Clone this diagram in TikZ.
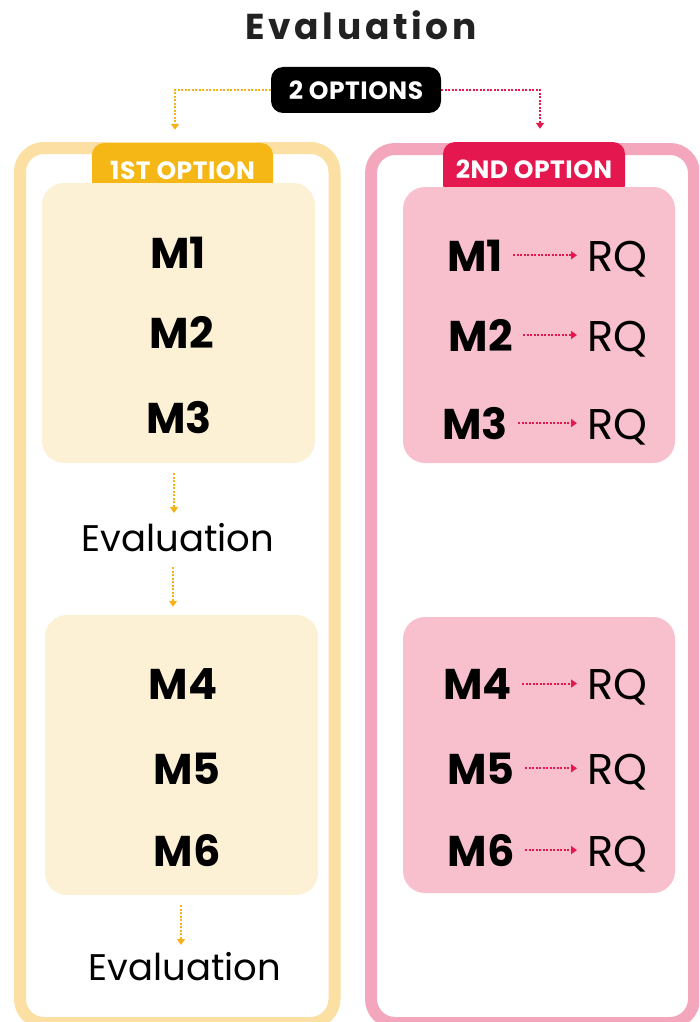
\documentclass[tikz,border=0pt]{standalone}
\usepackage{fontspec}
\setmainfont{Poppins}
\usetikzlibrary{arrows.meta,calc}
\definecolor{yframe}{HTML}{FCE0A3}
\definecolor{ybox}{HTML}{FCF0D5}
\definecolor{ybadge}{HTML}{F5B716}
\definecolor{yarr}{HTML}{F5B21A}
\definecolor{pframe}{HTML}{F4A6BC}
\definecolor{pbox}{HTML}{F8BFCD}
\definecolor{pbadge}{HTML}{E5174F}
\definecolor{titlec}{HTML}{222222}
\tikzset{
  frame/.style={line width=12pt,rounded corners=24pt},
  softbox/.style={rounded corners=22pt,minimum width=273pt,minimum height=280pt,inner sep=0pt},
  badge/.style={rounded corners=12pt,text=white,font=\fontsize{25}{28}\selectfont\bfseries\addfontfeatures{LetterSpace=2},inner sep=0pt},
  mtext/.style={anchor=base,inner sep=0pt,font=\fontsize{43}{46}\selectfont\bfseries},
  rqtext/.style={anchor=base west,inner sep=0pt,font=\fontsize{43}{46}\selectfont},
  evtext/.style={anchor=base,inner sep=0pt,font=\fontsize{37}{40}\selectfont},
  yarrow/.style={yarr,line width=2pt,dash pattern=on 2pt off 1.5pt,-{Triangle[width=8pt,length=6pt]}},
  parrow/.style={pbadge,line width=2pt,dash pattern=on 2pt off 1.5pt,-{Triangle[width=8pt,length=6pt]}},
}
\begin{document}
\begin{tikzpicture}[x=1pt,y=-1pt]
\useasboundingbox (0,0) rectangle (699,1022);
\begin{scope}
\clip (0,0) rectangle (699,1022);
\draw[frame,yframe] (20,148) rectangle (334.5,1023);
\draw[frame,pframe] (371,149) rectangle (694,1023);
\end{scope}
% title
\node[anchor=base,inner sep=0pt,text=titlec,font=\fontsize{36}{38}\selectfont\bfseries\addfontfeatures{LetterSpace=10}] (title) at (361,40) {Evaluation};
% badges
\node[badge,fill=black,minimum width=170pt,minimum height=46pt] (ops) at (356,90) {2 OPTIONS};
\node[badge,fill=ybadge,minimum width=181pt,minimum height=54pt] (b1) at (182.5,170) {1ST OPTION};
\node[badge,fill=pbadge,minimum width=182pt,minimum height=55pt] (b2) at (534,169.5) {2ND OPTION};
\draw[yarrow] (ops.west) -| ([xshift=-7.5pt,yshift=13pt]b1.north);
\draw[parrow] (ops.east) -| ([xshift=6pt,yshift=13pt]b2.north);
% boxes
\node[softbox,fill=ybox] (lb1) at (178.5,323) {};
\node[softbox,fill=ybox] (lb2) at (181.5,755) {};
\node[softbox,fill=pbox,minimum width=272pt,minimum height=276pt] (rb1) at (539,325) {};
\node[softbox,fill=pbox,minimum width=272pt,minimum height=276pt] (rb2) at (539,755) {};
% left texts
\node[mtext] (lm1) at (178,268) {M1};
\node[mtext] (lm2) at (182,348) {M2};
\node[mtext] (lm3) at (179,433) {M3};
\node[evtext] (ev1) at (178,551) {Evaluation};
\node[mtext] (lm4) at (183,699) {M4};
\node[mtext] (lm5) at (187,784) {M5};
\node[mtext] (lm6) at (187,866) {M6};
\node[evtext] (ev2) at (185,980) {Evaluation};
\draw[yarrow] ([xshift=-4.5pt,yshift=-10pt]lb1.south) -- ([xshift=-4pt,yshift=38pt]ev1.base);
\draw[yarrow] ([xshift=-5pt,yshift=-16pt]ev1.base) -- ([xshift=-8.5pt,yshift=8pt]lb2.north);
\draw[yarrow] ([xshift=-0.5pt,yshift=-10pt]lb2.south) -- ([xshift=-4pt,yshift=35pt]ev2.base);
% right texts
\node[mtext,anchor=base east] (rm1) at (503,271) {M1};
\node[mtext,anchor=base east] (rm2) at (513,351) {M2};
\node[mtext,anchor=base east] (rm3) at (508,439) {M3};
\node[mtext,anchor=base east] (rm4) at (512,699) {M4};
\node[mtext,anchor=base east] (rm5) at (515,784) {M5};
\node[mtext,anchor=base east] (rm6) at (515,866) {M6};
\foreach \i/\y in {1/271,2/351,3/439,4/699,5/784,6/866}{
  \node[rqtext] (rq\i) at (587,\y) {RQ};
  \draw[parrow,shorten <=10pt,shorten >=10pt] (rm\i.east) -- (rm\i.east -| rq\i.west);
}
\end{tikzpicture}
\end{document}
